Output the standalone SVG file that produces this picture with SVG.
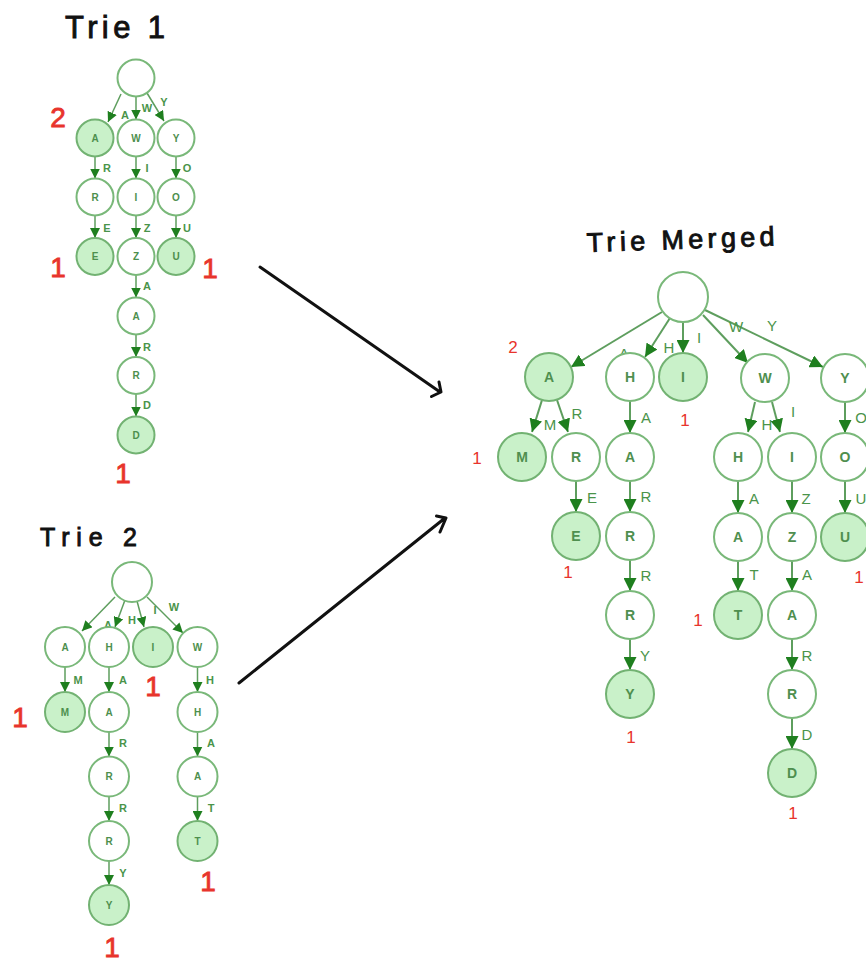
<svg xmlns="http://www.w3.org/2000/svg" width="866" height="962" viewBox="0 0 866 962">
<style>
.bg{fill:#ffffff}
.n{fill:#ffffff;stroke:#79b879;stroke-width:2}
.f{fill:#c9f1c9;stroke:#72b272;stroke-width:2}
.sl{font-family:"Liberation Sans",Arial,sans-serif;font-size:10px;font-weight:bold;fill:#4d8f4d;text-anchor:middle}
.ml{font-family:"Liberation Sans",Arial,sans-serif;font-size:14px;font-weight:bold;fill:#4f8f4f;text-anchor:middle}
.se{stroke:#5e9e5e;stroke-width:1.5;fill:none;marker-end:url(#ahs)}
.me{stroke:#5e9e5e;stroke-width:2;fill:none;marker-end:url(#ahm)}
.sel{font-family:"Liberation Sans",Arial,sans-serif;font-size:11px;font-weight:bold;fill:#4a944a;text-anchor:middle}
.mel{font-family:"Liberation Sans",Arial,sans-serif;font-size:15px;fill:#4a944a;text-anchor:middle}
.title{font-family:"Liberation Sans",Arial,sans-serif;fill:#111111;stroke:#111111;stroke-width:0.9}
.rb{font-family:"Liberation Sans",Arial,sans-serif;font-size:28px;fill:#e8342c;stroke:#e8342c;stroke-width:0.8;text-anchor:middle}
.rs{font-family:"Liberation Sans",Arial,sans-serif;font-size:17px;fill:#e8342c;text-anchor:middle}
.big{stroke:#111111;stroke-width:3;fill:none;stroke-linecap:round;stroke-linejoin:round}
</style>
<defs>
<marker id="ahs" markerUnits="userSpaceOnUse" markerWidth="10" markerHeight="10" viewBox="0 0 10 10" refX="10" refY="5" orient="auto"><path d="M0,0L10,5L0,10z" fill="#1f7f1f"/></marker>
<marker id="ahm" markerUnits="userSpaceOnUse" markerWidth="13" markerHeight="13" viewBox="0 0 10 10" refX="10" refY="5" orient="auto"><path d="M0,0L10,5L0,10z" fill="#1f7f1f"/></marker>
</defs>
<rect class="bg" x="0" y="0" width="866" height="962"/>

<text class="title" x="65" y="38" font-size="31" textLength="100" lengthAdjust="spacing">Trie 1</text>
<text class="title" x="40" y="546" font-size="25" textLength="97" lengthAdjust="spacing">Trie 2</text>
<text class="title" x="587" y="252" font-size="27" textLength="188" lengthAdjust="spacing" transform="rotate(-2 587 252)">Trie Merged</text>

<g id="connectors">
<!-- Trie 1 -->
<path class="se" d="M121,94L108,122"/>
<path class="se" d="M136,96.5L136,119.5"/>
<path class="se" d="M147,93L164,121"/>
<path class="se" d="M95,156.5L95,178.5"/>
<path class="se" d="M136,156.5L136,178.5"/>
<path class="se" d="M176,156.5L176,178.5"/>
<path class="se" d="M95,215.5L95,238"/>
<path class="se" d="M136,215.5L136,238"/>
<path class="se" d="M176,215.5L176,238"/>
<path class="se" d="M136,275L136,297.5"/>
<path class="se" d="M136,334.5L136,357"/>
<path class="se" d="M136,394L136,416.5"/>
<!-- Trie 2 -->
<path class="se" d="M115,597L82,631"/>
<path class="se" d="M125,600L115,627"/>
<path class="se" d="M137,601L144,627"/>
<path class="se" d="M147,597L183,633"/>
<path class="se" d="M65,667L65,692"/>
<path class="se" d="M109,667L109,692"/>
<path class="se" d="M197.5,667L197.5,692"/>
<path class="se" d="M109,732L109,756.5"/>
<path class="se" d="M109,796.5L109,821"/>
<path class="se" d="M109,861L109,885"/>
<path class="se" d="M197.5,732L197.5,756.5"/>
<path class="se" d="M197.5,796.5L197.5,821"/>
<!-- Merged -->
<path class="me" d="M662,312L571,367"/>
<path class="me" d="M670,318L645,357"/>
<path class="me" d="M683,322L683,353"/>
<path class="me" d="M703,315L748,363"/>
<path class="me" d="M705,310L823,367"/>
<path class="me" d="M542,400L532,432"/>
<path class="me" d="M557,400L568,432"/>
<path class="me" d="M630,401L630,433"/>
<path class="me" d="M755,402L748,432"/>
<path class="me" d="M772,402L780,432"/>
<path class="me" d="M845,402L845,433"/>
<path class="me" d="M576,481L576,512"/>
<path class="me" d="M630,481L630,512"/>
<path class="me" d="M738,481L738,513"/>
<path class="me" d="M792,481L792,513"/>
<path class="me" d="M845,481L845,513"/>
<path class="me" d="M630,560L630,591"/>
<path class="me" d="M738,561L738,591"/>
<path class="me" d="M792,561L792,591"/>
<path class="me" d="M630,639L630,670"/>
<path class="me" d="M792,639L792,670"/>
<path class="me" d="M792,718L792,749"/>
<!-- big arrows -->
<path class="big" d="M260,267L440,392M431.5,396.5L441,392L439,382"/>
<path class="big" d="M239,683L445,518M436.5,516L446,518L440,532"/>
<!-- edge labels -->
<g class="sel">
<text x="125" y="119">A</text><text x="147" y="112">W</text><text x="164" y="106">Y</text>
<text x="107" y="172">R</text><text x="147" y="172">I</text><text x="187" y="172">O</text>
<text x="107" y="232">E</text><text x="147" y="232">Z</text><text x="187" y="232">U</text>
<text x="147" y="290">A</text><text x="147" y="351">R</text><text x="147" y="409">D</text>
<text x="108" y="629">A</text><text x="132" y="624">H</text><text x="155" y="614">I</text><text x="174" y="611">W</text>
<text x="78" y="684">M</text><text x="123" y="684">A</text><text x="210" y="684">H</text>
<text x="123" y="747">R</text><text x="123" y="812">R</text><text x="123" y="877">Y</text>
<text x="211" y="747">A</text><text x="211" y="812">T</text>
</g>
<g class="mel">
<text x="624" y="359">A</text><text x="669" y="353">H</text><text x="699" y="343">I</text><text x="736" y="332">W</text><text x="772" y="331">Y</text>
<text x="550" y="430">M</text><text x="577" y="419">R</text><text x="646" y="423">A</text><text x="767" y="430">H</text><text x="793" y="417">I</text><text x="861" y="423">O</text>
<text x="592" y="503">E</text><text x="646" y="502">R</text><text x="754" y="504">A</text><text x="806" y="504">Z</text><text x="861" y="504">U</text>
<text x="646" y="581">R</text><text x="754" y="580">T</text><text x="807" y="580">A</text>
<text x="645" y="661">Y</text><text x="807" y="661">R</text><text x="807" y="740">D</text>
</g>
</g>

<!-- Trie 1 nodes -->
<g id="t1-root"><circle class="n" cx="136" cy="78" r="18.5"/></g>
<g id="t1-A"><circle class="f" cx="95" cy="138" r="18.5"/><text class="sl" x="95" y="141.5">A</text></g>
<g id="t1-W"><circle class="n" cx="136" cy="138" r="18.5"/><text class="sl" x="136" y="141.5">W</text></g>
<g id="t1-Y"><circle class="n" cx="176" cy="138" r="18.5"/><text class="sl" x="176" y="141.5">Y</text></g>
<g id="t1-AR"><circle class="n" cx="95" cy="197" r="18.5"/><text class="sl" x="95" y="200.5">R</text></g>
<g id="t1-WI"><circle class="n" cx="136" cy="197" r="18.5"/><text class="sl" x="136" y="200.5">I</text></g>
<g id="t1-YO"><circle class="n" cx="176" cy="197" r="18.5"/><text class="sl" x="176" y="200.5">O</text></g>
<g id="t1-ARE"><circle class="f" cx="95" cy="256.5" r="18.5"/><text class="sl" x="95" y="260">E</text></g>
<g id="t1-WIZ"><circle class="n" cx="136" cy="256.5" r="18.5"/><text class="sl" x="136" y="260">Z</text></g>
<g id="t1-YOU"><circle class="f" cx="176" cy="256.5" r="18.5"/><text class="sl" x="176" y="260">U</text></g>
<g id="t1-WIZA"><circle class="n" cx="136" cy="316" r="18.5"/><text class="sl" x="136" y="319.5">A</text></g>
<g id="t1-WIZAR"><circle class="n" cx="136" cy="375.5" r="18.5"/><text class="sl" x="136" y="379">R</text></g>
<g id="t1-WIZARD"><circle class="f" cx="136" cy="435" r="18.5"/><text class="sl" x="136" y="438.5">D</text></g>

<!-- Trie 2 nodes -->
<g id="t2-root"><circle class="n" cx="132" cy="582" r="20"/></g>
<g id="t2-A"><circle class="n" cx="65" cy="647" r="20"/><text class="sl" x="65" y="650.5">A</text></g>
<g id="t2-H"><circle class="n" cx="109" cy="647" r="20"/><text class="sl" x="109" y="650.5">H</text></g>
<g id="t2-I"><circle class="f" cx="153" cy="647" r="20"/><text class="sl" x="153" y="650.5">I</text></g>
<g id="t2-W"><circle class="n" cx="197.5" cy="647" r="20"/><text class="sl" x="197.5" y="650.5">W</text></g>
<g id="t2-AM"><circle class="f" cx="65" cy="712" r="20"/><text class="sl" x="65" y="715.5">M</text></g>
<g id="t2-HA"><circle class="n" cx="109" cy="712" r="20"/><text class="sl" x="109" y="715.5">A</text></g>
<g id="t2-WH"><circle class="n" cx="197.5" cy="712" r="20"/><text class="sl" x="197.5" y="715.5">H</text></g>
<g id="t2-HAR"><circle class="n" cx="109" cy="776.5" r="20"/><text class="sl" x="109" y="780">R</text></g>
<g id="t2-WHA"><circle class="n" cx="197.5" cy="776.5" r="20"/><text class="sl" x="197.5" y="780">A</text></g>
<g id="t2-HARR"><circle class="n" cx="109" cy="841" r="20"/><text class="sl" x="109" y="844.5">R</text></g>
<g id="t2-WHAT"><circle class="f" cx="197.5" cy="841" r="20"/><text class="sl" x="197.5" y="844.5">T</text></g>
<g id="t2-HARRY"><circle class="f" cx="109" cy="905" r="20"/><text class="sl" x="109" y="908.5">Y</text></g>

<!-- Merged nodes -->
<g id="m-root"><circle class="n" cx="683" cy="297" r="25"/></g>
<g id="m-A"><circle class="f" cx="549" cy="377" r="24"/><text class="ml" x="549" y="382">A</text></g>
<g id="m-H"><circle class="n" cx="630" cy="377" r="24"/><text class="ml" x="630" y="382">H</text></g>
<g id="m-I"><circle class="f" cx="683" cy="377" r="24"/><text class="ml" x="683" y="382">I</text></g>
<g id="m-W"><circle class="n" cx="765" cy="378" r="24"/><text class="ml" x="765" y="383">W</text></g>
<g id="m-Y"><circle class="n" cx="845" cy="378" r="24"/><text class="ml" x="845" y="383">Y</text></g>
<g id="m-AM"><circle class="f" cx="522" cy="457" r="24"/><text class="ml" x="522" y="462">M</text></g>
<g id="m-AR"><circle class="n" cx="576" cy="457" r="24"/><text class="ml" x="576" y="462">R</text></g>
<g id="m-HA"><circle class="n" cx="630" cy="457" r="24"/><text class="ml" x="630" y="462">A</text></g>
<g id="m-WH"><circle class="n" cx="738" cy="457" r="24"/><text class="ml" x="738" y="462">H</text></g>
<g id="m-WI"><circle class="n" cx="792" cy="457" r="24"/><text class="ml" x="792" y="462">I</text></g>
<g id="m-YO"><circle class="n" cx="845" cy="457" r="24"/><text class="ml" x="845" y="462">O</text></g>
<g id="m-ARE"><circle class="f" cx="576" cy="536" r="24"/><text class="ml" x="576" y="541">E</text></g>
<g id="m-HAR"><circle class="n" cx="630" cy="536" r="24"/><text class="ml" x="630" y="541">R</text></g>
<g id="m-WHA"><circle class="n" cx="738" cy="537" r="24"/><text class="ml" x="738" y="542">A</text></g>
<g id="m-WIZ"><circle class="n" cx="792" cy="537" r="24"/><text class="ml" x="792" y="542">Z</text></g>
<g id="m-YOU"><circle class="f" cx="845" cy="537" r="24"/><text class="ml" x="845" y="542">U</text></g>
<g id="m-HARR"><circle class="n" cx="630" cy="615" r="24"/><text class="ml" x="630" y="620">R</text></g>
<g id="m-WHAT"><circle class="f" cx="738" cy="615" r="24"/><text class="ml" x="738" y="620">T</text></g>
<g id="m-WIZA"><circle class="n" cx="792" cy="615" r="24"/><text class="ml" x="792" y="620">A</text></g>
<g id="m-HARRY"><circle class="f" cx="630" cy="694" r="24"/><text class="ml" x="630" y="699">Y</text></g>
<g id="m-WIZAR"><circle class="n" cx="792" cy="694" r="24"/><text class="ml" x="792" y="699">R</text></g>
<g id="m-WIZARD"><circle class="f" cx="792" cy="773" r="24"/><text class="ml" x="792" y="778">D</text></g>

<!-- counts -->
<g id="counts">
<text class="rb" x="58" y="127">2</text>
<text class="rb" x="58" y="277">1</text>
<text class="rb" x="210" y="278">1</text>
<text class="rb" x="123" y="483">1</text>
<text class="rb" x="153" y="696">1</text>
<text class="rb" x="20" y="727">1</text>
<text class="rb" x="208" y="891">1</text>
<text class="rb" x="112" y="957">1</text>
<text class="rs" x="513" y="353">2</text>
<text class="rs" x="685" y="426">1</text>
<text class="rs" x="477" y="464">1</text>
<text class="rs" x="568" y="578">1</text>
<text class="rs" x="698" y="626">1</text>
<text class="rs" x="631" y="743">1</text>
<text class="rs" x="793" y="819">1</text>
<text class="rs" x="859" y="583">1</text>
</g>
</svg>
